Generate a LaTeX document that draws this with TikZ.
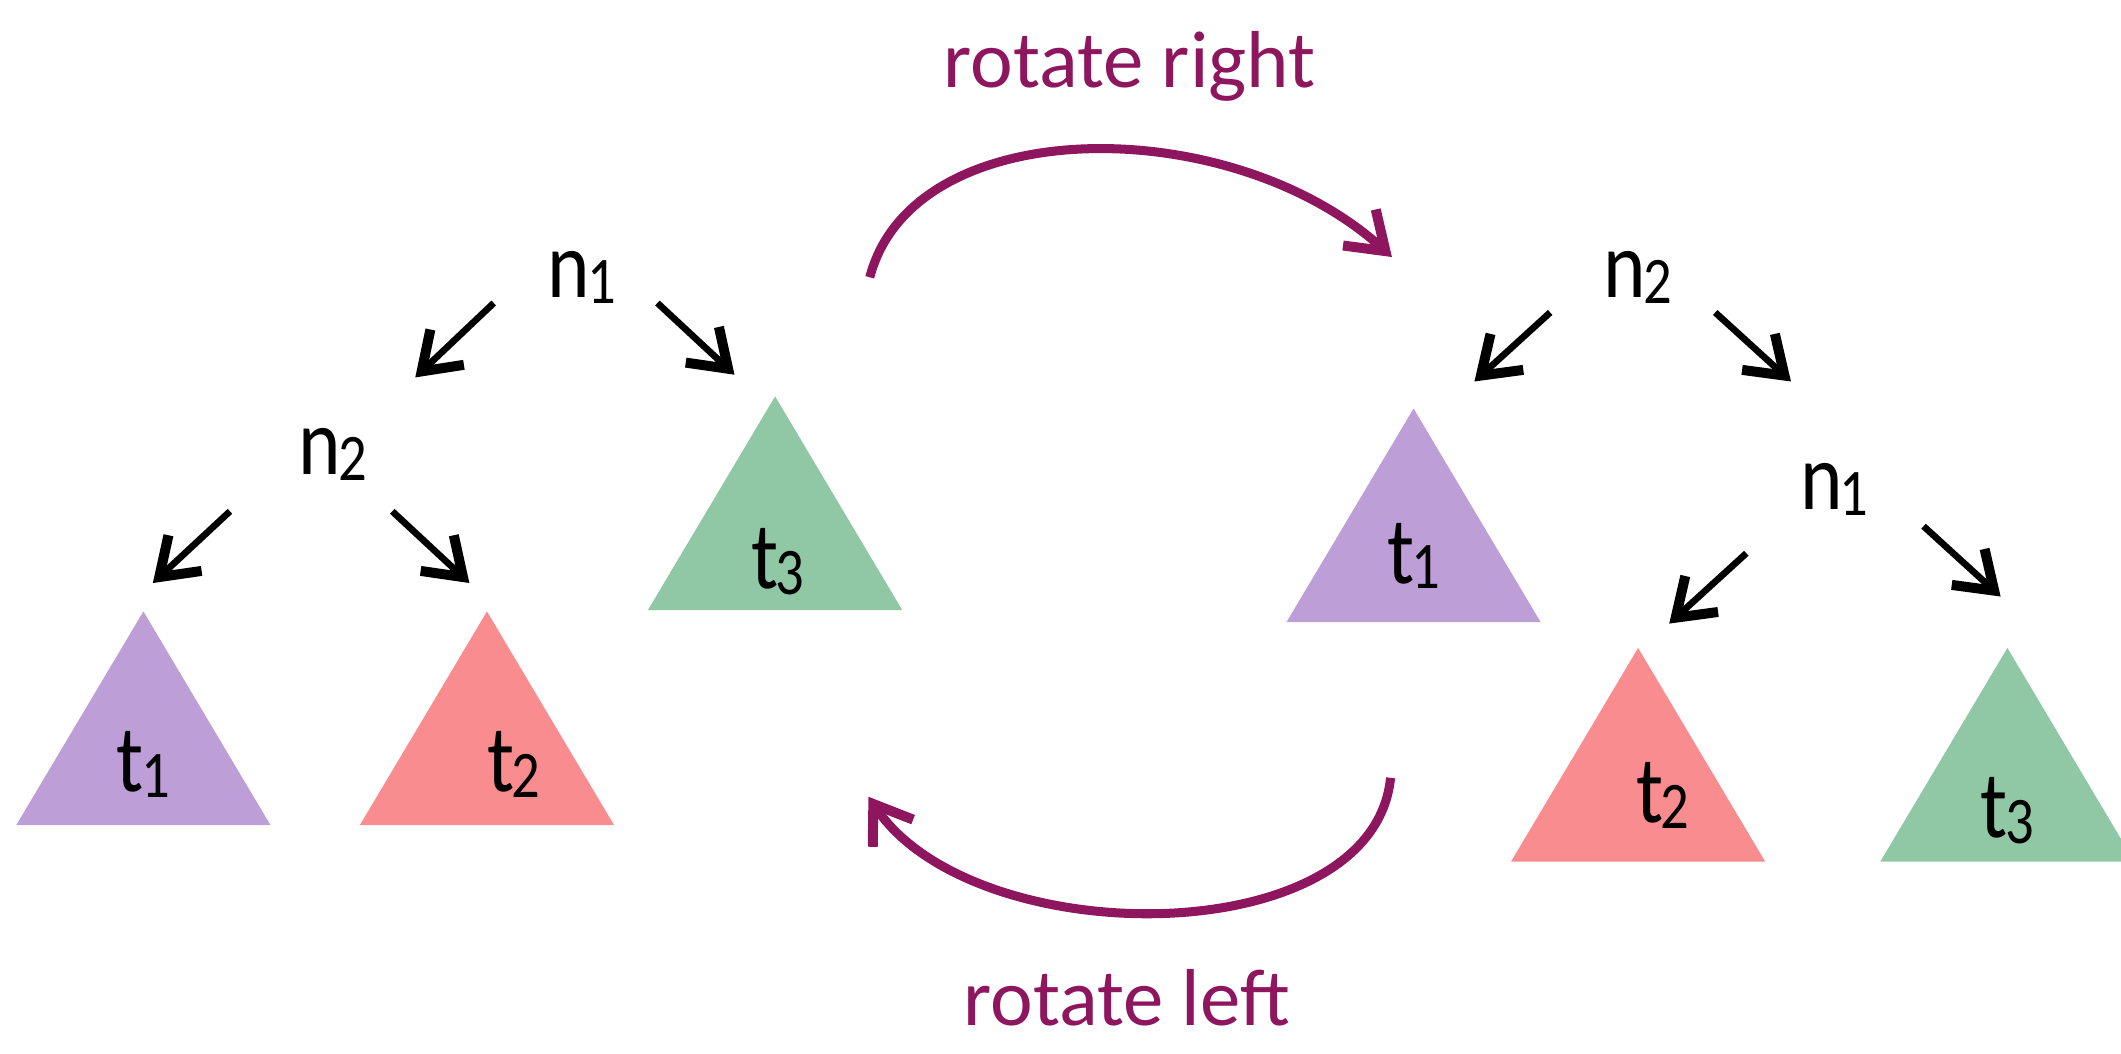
\documentclass[tikz,border=0pt]{standalone}
\usepackage{fontspec}
\setmainfont{Carlito}
\newfontfamily\treefont[FakeStretch=0.85]{Carlito}
\usetikzlibrary{arrows.meta,calc}
\definecolor{treepurple}{RGB}{190,158,214}
\definecolor{treered}{RGB}{249,140,142}
\definecolor{treegreen}{RGB}{144,200,166}
\definecolor{rotmagenta}{RGB}{142,22,94}
\newcommand{\idx}[1]{\kern-0.03em\raisebox{-0.06em}{\fontsize{14}{14}\selectfont #1}}

\begin{document}
\begin{tikzpicture}[
  key/.style={font=\treefont\fontsize{20}{24}\selectfont, inner sep=0pt, anchor=base},
  arr/.style={-{Straight Barb[length=2.6mm, width=3.6mm, line width=2.1pt]}, line width=1.4pt},
  rot/.style={-{Straight Barb[length=2.6mm, width=3.6mm, line width=2.1pt]}, line width=1.9pt, draw=rotmagenta},
  rotlbl/.style={font=\fontsize{17}{20}\selectfont, text=rotmagenta, inner sep=0pt, anchor=base}
]
\useasboundingbox (0,0) rectangle (15.68,-7.79);

% ── Subtrees: apex, colour, label ───────────────────────────────────────
\foreach \nm/\x/\y/\col/\i/\dx/\dy in {
    t1L/1.06/-4.52/treepurple/1/0/1.33,
    t2L/3.60/-4.52/treered/2/0.2/1.33,
    t3L/5.73/-2.93/treegreen/3/0.02/1.42,
    t1R/10.45/-3.02/treepurple/1/0/1.29,
    t2R/12.11/-4.79/treered/2/0.18/1.29,
    t3R/14.84/-4.79/treegreen/3/0/1.40}{
  \fill[\col] (\x,\y) coordinate (\nm) -- ++(-0.94,-1.58) -- ++(1.88,0) -- cycle;
  \node[key] (\nm-lbl) at ($(\nm)+(\dx,-\dy)$) {t\idx{\i}};
}

% ── Left tree ───────────────────────────────────────────────────────────
\node[key] (n1L) at (4.30,-2.20) {n\idx{1}};
\node[key] (n2L) at (2.46,-3.51) {n\idx{2}};
\draw[arr] ($(n1L.base)+(-0.65,-0.04)$) -- ($(n2L.base)+(0.61,0.72)$);
\draw[arr] ($(n1L.base)+(0.56,-0.04)$) -- ($(t3L)+(-0.30,0.16)$);
\draw[arr] ($(n2L.base)+(-0.76,-0.27)$) -- ($(t1L)+(0.07,0.21)$);
\draw[arr] ($(n2L.base)+(0.44,-0.27)$) -- ($(t2L)+(-0.13,0.21)$);

% ── Right tree ──────────────────────────────────────────────────────────
\node[key] (n2R) at (12.11,-2.20) {n\idx{2}};
\node[key] (n1R) at (13.56,-3.77) {n\idx{1}};
\draw[arr] ($(n2R.base)+(-0.65,-0.11)$) -- ($(t1R)+(0.45,0.20)$);
\draw[arr] ($(n2R.base)+(0.57,-0.11)$) -- ($(n1R.base)+(-0.32,0.95)$);
\draw[arr] ($(n1R.base)+(-0.65,-0.32)$) -- ($(t2R)+(0.23,0.18)$);
\draw[arr] ($(n1R.base)+(0.66,-0.12)$) -- ($(t3R)+(-0.05,0.38)$);

% ── Rotations ───────────────────────────────────────────────────────────
\coordinate (rr-from) at (6.43,-2.05);
\coordinate (rr-to) at (10.29,-1.90);
\coordinate (rl-from) at (10.28,-5.75);
\coordinate (rl-to) at (6.42,-5.89);
\draw[rot] (rr-from) .. controls (6.75,-0.82) and (9.1,-0.82) .. (rr-to);
\draw[rot] (rl-from) .. controls (10.15,-7.05) and (7.2,-7.05) .. (rl-to);
\node[rotlbl] (rotR) at (8.35,-0.65) {rotate right};
\node[rotlbl] (rotL) at (8.33,-7.58) {rotate left};

\end{tikzpicture}
\end{document}
